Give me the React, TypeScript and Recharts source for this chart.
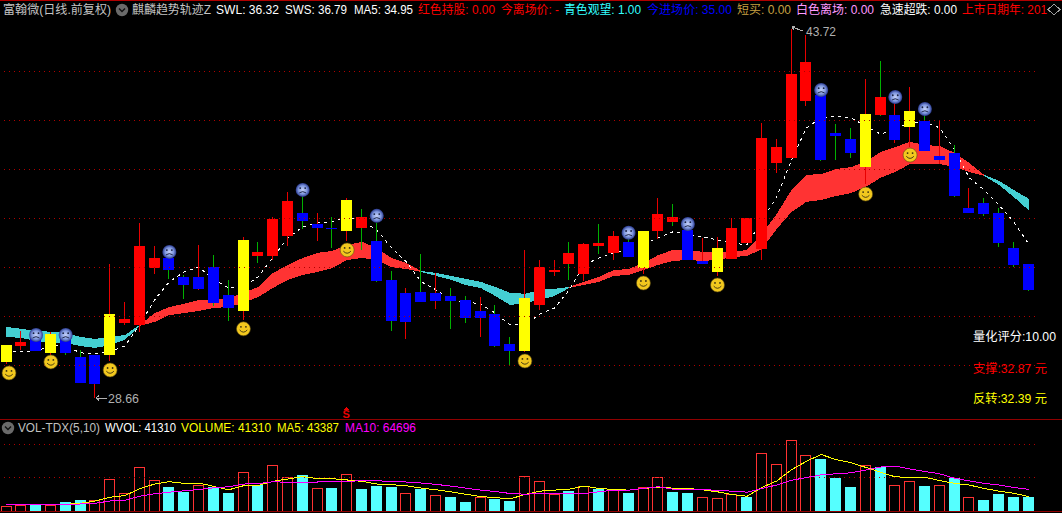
import React from "react"
import { Area, Bar, ComposedChart, Line, ReferenceLine, XAxis, YAxis } from "recharts"

const WIDTH = 1062
const HEIGHT = 513

const opens = [
  30.13, 30.78, 31.11, 30.5, 31.11, 30.33, 30.41, 30.41, 31.73, 31.64,
  33.96, 34.37, 33.6, 33.6, 34.0, 32.86, 32.21, 34.45, 34.45, 35.27,
  36.21, 35.76, 35.58, 35.48, 35.6, 35.07, 33.48, 32.95, 32.99, 32.95,
  32.82, 32.66, 32.21, 32.08, 30.86, 30.58, 32.45, 33.8, 34.12, 33.72,
  34.86, 34.58, 35.03, 33.96, 35.48, 35.84, 35.52, 34.25, 33.8, 34.33,
  34.99, 34.74, 38.25, 38.45, 40.78, 41.03, 39.47, 39.23, 38.08, 40.21,
  40.21, 39.72, 39.96, 38.53, 38.66, 36.41, 36.62, 36.21, 34.78, 34.12,
]
const highs = [
  30.82, 31.4, 31.11, 31.36, 31.11, 30.62, 30.41, 34.12, 32.58, 35.81,
  34.86, 34.53, 33.68, 34.9, 34.49, 33.48, 35.23, 35.03, 36.04, 37.07,
  36.86, 36.21, 36.04, 36.82, 36.37, 35.81, 33.84, 33.15, 34.53, 33.77,
  33.15, 32.82, 32.78, 32.45, 31.15, 34.7, 34.29, 34.29, 35.03, 34.99,
  35.76, 35.48, 35.31, 35.48, 36.82, 36.58, 35.72, 35.19, 35.23, 36.0,
  36.0, 39.88, 39.23, 43.72, 43.47, 41.15, 39.84, 39.68, 41.68, 42.41,
  40.7, 41.35, 40.21, 39.96, 38.98, 37.23, 36.82, 36.41, 35.03, 34.12,
]
const lows = [
  30.04, 30.62, 30.58, 30.41, 30.41, 29.28, 28.66, 30.17, 31.64, 31.36,
  33.72, 33.52, 32.7, 33.07, 32.41, 31.8, 31.84, 34.17, 34.29, 34.86,
  35.56, 35.07, 34.78, 35.07, 34.7, 33.4, 31.4, 31.07, 32.58, 32.29,
  31.48, 31.73, 31.15, 30.74, 30.01, 30.54, 32.25, 33.64, 33.48, 33.44,
  34.53, 34.29, 34.41, 33.72, 35.15, 35.68, 34.29, 34.12, 33.64, 34.33,
  34.99, 34.29, 37.84, 38.45, 40.57, 38.33, 38.37, 38.45, 37.39, 40.17,
  39.07, 38.9, 38.74, 38.21, 36.86, 36.21, 36.09, 34.82, 34.0, 33.03,
]
const closes = [
  30.82, 30.95, 30.58, 31.27, 30.5, 29.28, 29.23, 32.08, 31.88, 34.86,
  34.37, 33.88, 33.27, 33.11, 32.54, 32.33, 35.11, 34.62, 35.96, 36.7,
  35.88, 35.6, 35.54, 36.74, 36.04, 33.44, 31.8, 31.76, 32.58, 32.62,
  32.62, 31.92, 31.92, 30.78, 30.58, 32.74, 34.0, 33.88, 34.58, 34.95,
  34.99, 35.27, 34.41, 35.48, 36.17, 36.04, 34.29, 34.12, 34.78, 35.6,
  36.0, 39.27, 38.9, 41.88, 42.37, 38.37, 39.35, 38.66, 40.25, 40.94,
  39.19, 40.37, 38.74, 38.37, 36.9, 36.21, 36.17, 34.99, 34.09, 33.07,
]
// r = red wick, g = green wick
const wickSides = "rrgrggrrrr" + "rggrggrgrr" + "grgrgggrgr" + "ggrggrrrgr" + "grgrrggrrr" + "rrrrrgggrg" + "rrgrgrgggg"

const maLine = [
  30.54, 30.54, 30.58, 30.78, 30.78, 30.5, 30.46, 30.54, 30.78, 31.64,
  32.66, 33.4, 33.8, 34.0, 33.48, 33.15, 33.19, 33.6, 34.41, 35.19,
  35.64, 35.81, 35.84, 36.04, 35.88, 35.52, 34.78, 34.21, 33.4, 33.07,
  32.66, 32.58, 32.5, 32.12, 31.64, 31.64, 32.08, 32.33, 33.07, 34.09,
  34.37, 34.58, 34.7, 34.95, 35.19, 35.44, 35.35, 35.23, 35.11, 34.99,
  34.9, 35.92, 36.86, 38.37, 39.68, 40.09, 40.17, 40.09, 39.76, 39.43,
  39.6, 39.92, 39.92, 39.68, 38.78, 37.64, 37.15, 36.53, 35.84, 34.95,
]
const ribbonTop = [
  31.56, 31.48, 31.4, 31.36, 31.31, 31.15, 31.07, 31.15, 31.23, 31.64,
  32.12, 32.37, 32.5, 32.66, 32.66, 32.74, 32.95, 33.19, 33.76, 34.09,
  34.37, 34.58, 34.66, 34.9, 35.03, 34.78, 34.37, 34.17, 33.84, 33.76,
  33.64, 33.52, 33.4, 33.19, 32.95, 32.91, 33.07, 33.11, 33.19, 33.4,
  33.6, 33.88, 33.92, 34.17, 34.49, 34.7, 34.7, 34.62, 34.62, 34.62,
  34.7, 35.35, 36.17, 37.15, 37.76, 37.8, 38.0, 38.08, 38.29, 38.7,
  38.9, 39.11, 38.98, 38.94, 38.66, 38.25, 37.76, 37.52, 37.15, 36.79,
]
const ribbonBottom = [
  31.15, 31.11, 30.99, 30.9, 30.9, 30.78, 30.7, 30.82, 31.03, 31.6,
  31.76, 32.04, 32.12, 32.21, 32.33, 32.37, 32.54, 32.78, 33.15, 33.48,
  33.68, 33.8, 33.96, 34.29, 34.37, 34.29, 34.0, 33.92, 33.8, 33.64,
  33.48, 33.27, 33.15, 32.82, 32.45, 32.54, 32.66, 32.82, 33.15, 33.27,
  33.4, 33.64, 33.68, 33.88, 34.09, 34.25, 34.29, 34.25, 34.29, 34.41,
  34.45, 34.74, 35.56, 36.25, 36.66, 36.74, 36.9, 37.02, 37.27, 37.64,
  37.88, 38.21, 38.21, 38.21, 38.08, 37.88, 37.72, 37.35, 36.86, 36.32,
]
// day ranges (first, last) where the ribbon is cyan, the rest is red
const cyanRanges = [[0, 9], [28, 38], [66, 69]]
const redRanges = [[9, 28], [38, 66]]

const smileDays = [0, 3, 7, 16, 23, 35, 43, 48, 58, 61]
const smilePrices = [29.68, 30.13, 29.8, 31.48, 34.7, 30.17, 33.35, 33.27, 36.98, 38.57]
const frownDays = [2, 4, 11, 20, 25, 42, 46, 55, 60, 62]
const frownPrices = [31.23, 31.23, 34.62, 37.15, 36.09, 35.4, 35.76, 41.23, 40.94, 40.45]

const priceGrid = [30, 32, 34, 36, 38, 40, 42]
const volumeGrid = [100000, 200000]

const volumes = [
  15000, 18000, 18000, 18000, 28100, 34100, 33200, 97000, 54500, 133200,
  94000, 70700, 55400, 78700, 70700, 52400, 115300, 78700, 136500, 103000,
  107200, 69500, 67700, 112000, 64700, 73700, 70700, 54500, 66500, 48200,
  43400, 28100, 41300, 37100, 31100, 106000, 89800, 50300, 60500, 74600,
  65600, 65600, 54500, 71600, 102100, 57500, 54500, 41300, 38300, 50300,
  42200, 172200, 141600, 212000, 166200, 155100, 100000, 72800, 138600, 130500,
  77800, 89800, 75700, 77800, 100000, 41300, 32900, 51200, 42200, 41310,
]
const redVolumeDays = [
  0, 1, 3, 6, 7, 8, 9, 10, 13, 16, 18, 19, 21, 23, 27, 29, 32, 35,
  36, 37, 39, 41, 43, 44, 47, 48, 49, 51, 52, 53, 54, 58, 60, 61, 63, 65,
]
const volumeMa5 = [
  19000, 19500, 20000, 20000, 20000, 23000, 30100, 41200, 46300, 66500,
  80700, 87800, 82700, 83800, 73600, 63500, 75600, 76700, 88800, 95900,
  103000, 96900, 96900, 92900, 88800, 80700, 78700, 75600, 68600, 63500,
  57400, 50300, 43300, 40200, 36200, 49300, 59400, 62500, 65500, 74700,
  67600, 64500, 62500, 67600, 70600, 68600, 67600, 63500, 57400, 49300,
  44200, 70600, 89900, 123500, 148800, 169200, 153900, 144800, 130600, 116300,
  102100, 101100, 101100, 90900, 82800, 77700, 67600, 59400, 53300, 43387,
]
const volumeMa10 = [
  20000, 20000, 20000, 20000, 20000, 21000, 23000, 30100, 32100, 44300,
  51400, 56400, 60500, 64500, 69600, 72600, 80700, 81700, 87800, 85800,
  85800, 86800, 87800, 88800, 90800, 90800, 87800, 86800, 83800, 79700,
  74600, 68600, 62500, 58400, 52400, 50300, 52300, 52300, 52300, 52300,
  57400, 62500, 62500, 67600, 72700, 65500, 65500, 64500, 61500, 59400,
  56400, 67600, 77700, 91960, 100100, 108200, 111300, 114300, 122400, 131600,
  134600, 125500, 118400, 111300, 98100, 89900, 82800, 77700, 70600, 64696,
]

const inRanges = (day: number, ranges: number[][]) => ranges.some(([a, b]) => day >= a && day <= b)

const table = opens.map((open, day) => {
  const smile = smileDays.indexOf(day)
  const frown = frownDays.indexOf(day)
  const band = [ribbonBottom[day], ribbonTop[day]]
  return {
    day,
    open,
    close: closes[day],
    range: [lows[day], highs[day]],
    high: highs[day],
    low: lows[day],
    wick: wickSides[day],
    ma: maLine[day],
    cyanBand: inRanges(day, cyanRanges) ? band : null,
    redBand: inRanges(day, redRanges) ? band : null,
    smile: smile >= 0 ? smilePrices[smile] : null,
    frown: frown >= 0 ? frownPrices[frown] : null,
    volume: volumes[day],
    volumeUp: redVolumeDays.includes(day),
    ma5: volumeMa5[day],
    ma10: volumeMa10[day],
  }
})

// bars land a pixel right of the line points, pull them back
const Candle = (props: any) => {
  const { x, y, width, height, payload } = props
  const { open, close, high, low, wick, smile } = payload
  const perPrice = height / (high - low)
  const cx = Math.round(x + width / 2) - 1
  const top = y + (high - Math.max(open, close)) * perPrice
  const bodyHeight = Math.max(1, Math.abs(open - close) * perPrice)
  const fill = smile !== null ? "#ffff00" : close > open ? "#ff0000" : "#0000ff"
  return (
    <g>
      <rect x={cx} y={y} width={1} height={height} fill={wick === "g" ? "#00b000" : "#e80000"} />
      <rect x={cx - 5} y={top} width={11} height={bodyHeight} fill={fill} />
    </g>
  )
}

const VolumeBar = (props: any) => {
  const { x, y, width, height, payload } = props
  const left = Math.round(x + width / 2) - 6
  if (payload.volumeUp) {
    return <rect x={left + 0.5} y={y + 0.5} width={10} height={height - 0.5} fill="none" stroke="#ff3232" />
  }
  return <rect x={left} y={y} width={11} height={height} fill="#55ffff" />
}

const SmileDot = (props: any) => {
  const { cx, cy, payload } = props
  if (payload.smile === null || cy == null) return <g key={payload.day} />
  const x = Math.max(cx, 10)
  return (
    <g key={payload.day} transform={`translate(${x},${cy})`} style={{ shapeRendering: "geometricPrecision" }}>
      <circle r={7} fill="#f2c81e" stroke="#5a4a10" strokeWidth={0.6} />
      <circle cx={-2.5} cy={-2} r={0.9} fill="#3a3010" />
      <circle cx={2.5} cy={-2} r={0.9} fill="#3a3010" />
      <path d="M-3.8 1.2 Q0 5.4 3.8 1.2" fill="none" stroke="#3a3010" strokeWidth={0.9} />
    </g>
  )
}

const FrownDot = (props: any) => {
  const { cx, cy, payload } = props
  if (payload.frown === null || cy == null) return <g key={payload.day} />
  return (
    <g key={payload.day} transform={`translate(${cx},${cy})`} style={{ shapeRendering: "geometricPrecision" }}>
      <circle r={7} fill="url(#frownFill)" />
      <circle cx={-2.5} cy={-1.8} r={0.9} fill="#182040" />
      <circle cx={2.5} cy={-1.8} r={0.9} fill="#182040" />
      <path d="M-3.4 3 Q0 0.4 3.4 3" fill="none" stroke="#182040" strokeWidth={0.9} />
    </g>
  )
}

const Fold = ({ x, y }: { x: number; y: number }) => (
  <g style={{ shapeRendering: "geometricPrecision" }}>
    <circle cx={x} cy={y} r={6.2} fill="#6a6a6a" />
    <path d={`M${x - 3} ${y - 1.5} L${x} ${y + 1.5} L${x + 3} ${y - 1.5}`} fill="none" stroke="#111" strokeWidth={1.4} />
  </g>
)

const fontFamily = '"Liberation Sans", "Noto Sans CJK SC", sans-serif'

// label, left, right, color
const headerTexts: [string, number, number, string][] = [
  ["富翰微(日线.前复权)", 3, 111, "#c4c4c4"],
  ["麒麟趋势轨迹Z", 132, 211, "#c4c4c4"],
  ["SWL: 36.32", 216, 279, "#ffffff"],
  ["SWS: 36.79", 285, 347, "#ffffff"],
  ["MA5: 34.95", 354, 413, "#ffffff"],
  ["红色持股: 0.00", 418, 495, "#ff0000"],
  ["今离场价: -", 501, 559, "#ff0000"],
  ["青色观望: 1.00", 564, 641, "#33ffff"],
  ["今进场价: 35.00", 647, 732, "#0000ff"],
  ["短买: 0.00", 737, 791, "#c8a040"],
  ["白色离场: 0.00", 796, 874, "#ff99ff"],
  ["急速超跌: 0.00", 880, 957, "#ffffff"],
  ["上市日期年: 201", 962, 1047, "#ff0000"],
]
const volumeTexts: [string, number, number, string][] = [
  ["VOL-TDX(5,10)", 18, 100, "#c0c0c0"],
  ["WVOL: 41310", 105, 176, "#ffffff"],
  ["VOLUME: 41310", 181, 271, "#ffff00"],
  ["MA5: 43387", 277, 339, "#ffff00"],
  ["MA10: 64696", 345, 416, "#ff00ff"],
]
const sideTexts: [string, number, number, number, string][] = [
  ["量化评分:10.00", 973, 1056, 341, "#ffffff"],
  ["支撑:32.87 元", 973, 1047, 373, "#ff0000"],
  ["反转:32.39 元", 973, 1047, 403, "#ffff00"],
]

const Overlay = () => (
  <svg width={WIDTH} height={HEIGHT} style={{ position: "absolute", left: 0, top: 0, pointerEvents: "none" }} fontFamily={fontFamily} fontSize={12}>
    <defs>
      <radialGradient id="frownFill">
        <stop offset="0%" stopColor="#c4d0f6" />
        <stop offset="60%" stopColor="#8098e0" />
        <stop offset="100%" stopColor="#28388c" />
      </radialGradient>
    </defs>
    <rect x={0} y={0} width={WIDTH} height={1} fill="#b00000" />
    <rect x={0} y={419} width={WIDTH} height={1} fill="#900000" />
    <rect x={0} y={511} width={WIDTH} height={1} fill="#900000" />
    {headerTexts.map(([label, left, right, color]) => (
      <text key={label} x={left} y={14} fill={color} textLength={right - left} lengthAdjust="spacingAndGlyphs">{label}</text>
    ))}
    <Fold x={122} y={10} />
    <path d="M1048 9.5 L1054 4 L1060 9.5 L1054 15 Z" fill="none" stroke="#a0a0a0" />
    <Fold x={8} y={428} />
    {volumeTexts.map(([label, left, right, color]) => (
      <text key={label} x={left} y={432} fill={color} textLength={right - left} lengthAdjust="spacingAndGlyphs">{label}</text>
    ))}
    {sideTexts.map(([label, left, right, y, color]) => (
      <text key={label} x={left} y={y} fill={color} textLength={right - left} lengthAdjust="spacingAndGlyphs">{label}</text>
    ))}
    <path d="M107 398 L96 398 M99 395.5 L96 398 L99 400.5" fill="none" stroke="#b0b0b0" />
    <text x={108} y={403} fill="#b0b0b0" textLength={31} lengthAdjust="spacingAndGlyphs">28.66</text>
    <path d="M803 31 L792 27 M795 26 L792 27 L794 30" fill="none" stroke="#b0b0b0" />
    <text x={806} y={36} fill="#b0b0b0" textLength={30} lengthAdjust="spacingAndGlyphs">43.72</text>
    <path d="M346 407 L343.5 409.5 L348.5 409.5 Z" fill="#e80000" />
    <text x={342.5} y={418} fill="#e80000" fontSize={11} fontWeight="bold">S</text>
  </svg>
)

const App = () => (
  <div style={{ position: "absolute", left: 0, top: 0, width: WIDTH, height: HEIGHT, background: "#000", overflow: "hidden", shapeRendering: "crispEdges" }}>
    <div style={{ position: "absolute", left: -1, top: 0 }}>
      <ComposedChart width={1100} height={419} data={table} margin={{ top: 0, right: 63, bottom: 0, left: 0 }}>
        <XAxis dataKey="day" type="category" hide padding={{ left: 0, right: 0 }} />
        <YAxis hide domain={[27.8, 44.9]} allowDataOverflow />
        {priceGrid.map((v) => (
          <ReferenceLine key={v} y={v} stroke="#b00000" strokeDasharray="1 4" />
        ))}
        <Area dataKey="cyanBand" type="linear" stroke="none" fill="#44cfd2" fillOpacity={1} dot={false} activeDot={false} isAnimationActive={false} />
        <Area dataKey="redBand" type="linear" stroke="none" fill="#ff3333" fillOpacity={1} dot={false} activeDot={false} isAnimationActive={false} />
        <Line dataKey="ma" type="linear" stroke="#ffffff" strokeWidth={1} strokeDasharray="3 4" dot={false} activeDot={false} zIndex={250} isAnimationActive={false} />
        <Bar dataKey="range" shape={Candle} barSize={11} isAnimationActive={false} />
        <Line dataKey="smile" stroke="none" dot={SmileDot} activeDot={false} legendType="none" connectNulls={false} isAnimationActive={false} />
        <Line dataKey="frown" stroke="none" dot={FrownDot} activeDot={false} legendType="none" connectNulls={false} isAnimationActive={false} />
      </ComposedChart>
    </div>
    <div style={{ position: "absolute", left: -1, top: 420 }}>
      <ComposedChart width={1100} height={91} data={table} margin={{ top: 0, right: 63, bottom: 0, left: 0 }}>
        <XAxis dataKey="day" type="category" hide />
        <YAxis hide domain={[0, 272454]} allowDataOverflow />
        {volumeGrid.map((v) => (
          <ReferenceLine key={v} y={v} stroke="#b00000" strokeDasharray="1 4" />
        ))}
        <Bar dataKey="volume" shape={VolumeBar} barSize={11} isAnimationActive={false} />
        <Line dataKey="ma5" type="linear" stroke="#ffff00" strokeWidth={1} dot={false} activeDot={false} isAnimationActive={false} />
        <Line dataKey="ma10" type="linear" stroke="#ff00ff" strokeWidth={1} dot={false} activeDot={false} isAnimationActive={false} />
      </ComposedChart>
    </div>
    <Overlay />
  </div>
)

export default App
